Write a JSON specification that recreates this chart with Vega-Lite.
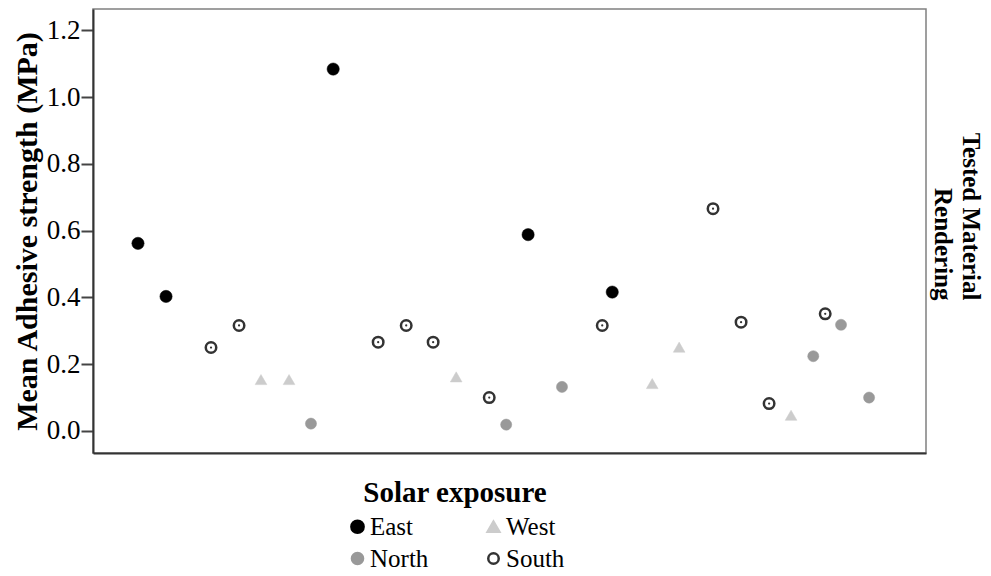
{
  "$schema": "https://vega.github.io/schema/vega-lite/v6.json",
  "width": 833,
  "height": 444,
  "autosize": {"type": "none"},
  "padding": {"left": 93, "top": 9, "right": 65, "bottom": 123},
  "config": {
    "font": "Liberation Serif",
    "view": {"stroke": "#808080", "strokeWidth": 1.5}
  },
  "data": {
    "values": [
      {"sample": 1.62, "strength": 0.562, "exposure": "East"},
      {"sample": 2.63, "strength": 0.403, "exposure": "East"},
      {"sample": 4.25, "strength": 0.250, "exposure": "South"},
      {"sample": 5.26, "strength": 0.316, "exposure": "South"},
      {"sample": 6.05, "strength": 0.154, "exposure": "West"},
      {"sample": 7.06, "strength": 0.154, "exposure": "West"},
      {"sample": 7.85, "strength": 0.022, "exposure": "North"},
      {"sample": 8.65, "strength": 1.084, "exposure": "East"},
      {"sample": 10.27, "strength": 0.266, "exposure": "South"},
      {"sample": 11.28, "strength": 0.316, "exposure": "South"},
      {"sample": 12.25, "strength": 0.266, "exposure": "South"},
      {"sample": 13.08, "strength": 0.162, "exposure": "West"},
      {"sample": 14.27, "strength": 0.100, "exposure": "South"},
      {"sample": 14.88, "strength": 0.019, "exposure": "North"},
      {"sample": 15.67, "strength": 0.588, "exposure": "East"},
      {"sample": 16.89, "strength": 0.132, "exposure": "North"},
      {"sample": 18.34, "strength": 0.316, "exposure": "South"},
      {"sample": 18.70, "strength": 0.416, "exposure": "East"},
      {"sample": 20.14, "strength": 0.142, "exposure": "West"},
      {"sample": 21.11, "strength": 0.251, "exposure": "West"},
      {"sample": 22.33, "strength": 0.666, "exposure": "South"},
      {"sample": 23.34, "strength": 0.326, "exposure": "South"},
      {"sample": 24.35, "strength": 0.082, "exposure": "South"},
      {"sample": 25.14, "strength": 0.047, "exposure": "West"},
      {"sample": 25.94, "strength": 0.224, "exposure": "North"},
      {"sample": 26.37, "strength": 0.351, "exposure": "South"},
      {"sample": 26.94, "strength": 0.318, "exposure": "North"},
      {"sample": 27.95, "strength": 0.100, "exposure": "North"}
    ]
  },
  "layer": [
    {
      "mark": {"type": "point", "opacity": 1},
      "encoding": {
        "x": {
          "field": "sample", "type": "quantitative",
          "scale": {"domain": [0, 30], "nice": false, "zero": false},
          "axis": {"title": null, "labels": false, "ticks": false, "grid": false, "domainColor": "#333", "domainWidth": 2}
        },
        "y": {
          "field": "strength", "type": "quantitative",
          "scale": {"domain": [-0.066, 1.264], "nice": false, "zero": false},
          "axis": {
            "title": "Mean Adhesive strength (MPa)",
            "values": [0, 0.2, 0.4, 0.6, 0.8, 1.0, 1.2],
            "format": ".1f", "grid": false,
            "tickSize": 12, "tickColor": "#444", "tickWidth": 2,
            "domainColor": "#333", "domainWidth": 2,
            "labelFontSize": 27, "labelColor": "black", "labelPadding": 1,
            "titleFontSize": 30, "titleFontWeight": "bold", "titleColor": "black", "titlePadding": 4
          }
        },
        "shape": {
          "field": "exposure", "type": "nominal",
          "scale": {"domain": ["East", "West", "North", "South"], "range": ["circle", "triangle-up", "circle", "circle"]},
          "legend": {
            "title": "Solar exposure", "orient": "none", "legendX": 252, "legendY": 470,
            "columns": 2, "direction": "horizontal", "columnPadding": 52, "rowPadding": 6,
            "titleFontSize": 29, "titleFontWeight": "bold", "titleColor": "black", "titleAnchor": "middle", "titlePadding": 6, "titleLimit": 400,
            "labelFontSize": 25, "labelColor": "black", "labelOffset": 0, "symbolSize": 90, "symbolStrokeWidth": 2.5
          }
        },
        "fill": {
          "field": "exposure", "type": "nominal",
          "scale": {"domain": ["East", "West", "North", "South"], "range": ["#000000", "#cccccc", "#999999", "#ffffff"]}
        },
        "stroke": {
          "field": "exposure", "type": "nominal",
          "scale": {"domain": ["East", "West", "North", "South"], "range": ["#000000", "#cccccc", "#999999", "#333333"]}
        },
        "strokeWidth": {
          "condition": {"test": "datum.exposure === 'South'", "value": 2.5},
          "value": 0.5
        },
        "size": {
          "field": "exposure", "type": "nominal",
          "scale": {"domain": ["East", "West", "North", "South"], "range": [150, 110, 90, 110]}
        }
      }
    },
    {
      "transform": [{"filter": "datum.exposure === 'South'"}],
      "mark": {"type": "point", "filled": true, "color": "#333333", "size": 5, "opacity": 1},
      "encoding": {
        "x": {"field": "sample", "type": "quantitative"},
        "y": {
          "field": "strength", "type": "quantitative",
          "axis": {
            "orient": "right", "labels": false, "ticks": false, "domain": false, "grid": false,
            "title": ["Tested Material", "Rendering"], "titleAngle": 90,
            "titleFontSize": 25, "titleFontWeight": "bold", "titleColor": "black",
            "titleAlign": "right", "titleY": 291, "titlePadding": 3, "titleLineHeight": 28
          }
        }
      }
    }
  ],
  "resolve": {"axis": {"y": "independent"}}
}
